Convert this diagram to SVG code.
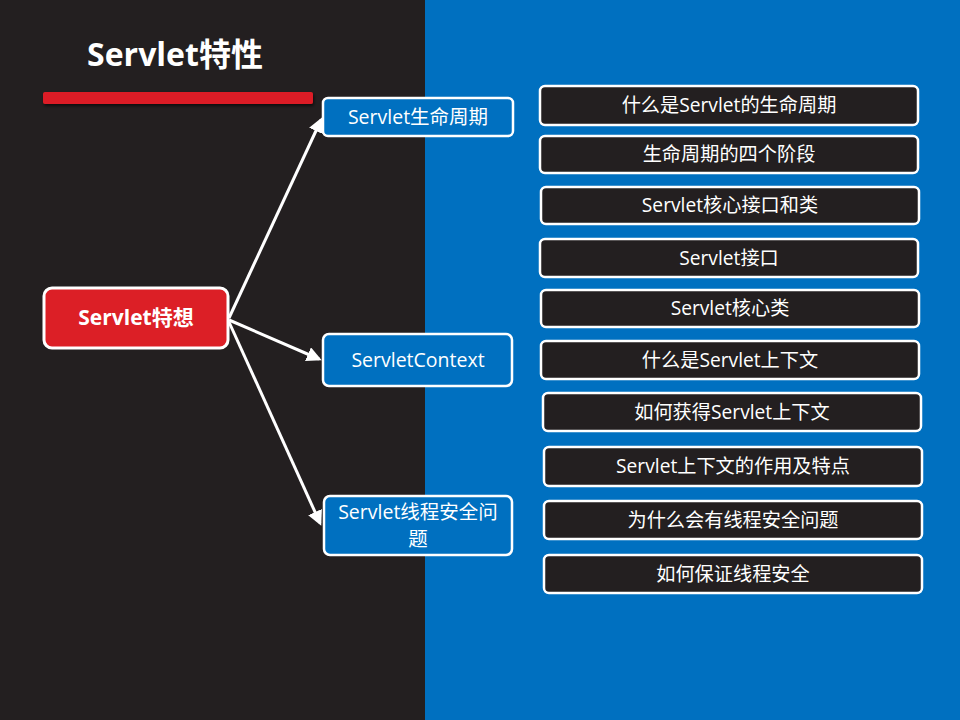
<svg xmlns="http://www.w3.org/2000/svg" width="960" height="720" viewBox="0 0 960 720">
<defs>
<style>
text{font-family:"Open Sans","Noto Sans CJK SC",sans-serif;fill:#fff;text-anchor:middle;}
.mid{fill:#0070c0;stroke:#fff;stroke-width:2.5;}
.leaf{fill:#231f20;stroke:#fff;stroke-width:2.5;}
.lt{font-size:19.2px;}
.mt{font-size:19.5px;}
.conn{stroke:#fff;stroke-width:3;fill:none;marker-end:url(#ah);}
</style>
<marker id="ah" markerWidth="5" markerHeight="5" refX="4" refY="2.5" orient="auto" markerUnits="strokeWidth">
<path d="M0,0 L5,2.5 L0,5 Z" fill="#fff"/>
</marker>
<filter id="sh" x="-10%" y="-50%" width="120%" height="250%">
<feDropShadow dx="1" dy="2" stdDeviation="1.5" flood-color="#000" flood-opacity="0.6"/>
</filter>
</defs>
<rect x="0" y="0" width="425" height="720" fill="#231f20"/>
<rect x="425" y="0" width="535" height="720" fill="#0070c0"/>
<text x="175" y="66" style="font-size:32px;font-weight:bold;">Servlet特性</text>
<rect x="43" y="92" width="270" height="12" rx="2" fill="#dc1f26" filter="url(#sh)"/>
<g id="connectors">
<line class="conn" x1="229" y1="318" x2="321" y2="120"/>
<line class="conn" x1="229" y1="320" x2="319" y2="359"/>
<line class="conn" x1="229" y1="322" x2="320" y2="523"/>
</g>
<g id="root">
<rect x="44" y="288" width="184" height="60" rx="8" fill="#dc1f26" stroke="#fff" stroke-width="3"/>
<text x="136" y="325" style="font-size:21px;font-weight:bold;">Servlet特想</text>
</g>
<g id="n1">
<rect class="mid" x="323" y="98" width="190" height="38" rx="5"/>
<text class="mt" x="418" y="124">Servlet生命周期</text>
</g>
<g id="n2">
<rect class="mid" x="323" y="334" width="189" height="52" rx="6"/>
<text class="mt" x="418" y="367">ServletContext</text>
</g>
<g id="n3">
<rect class="mid" x="324" y="496" width="188" height="59" rx="6"/>
<text class="mt" x="418" y="519">Servlet线程安全问</text>
<text class="mt" x="418" y="546">题</text>
</g>
<g id="l1"><rect class="leaf" x="540" y="86" width="378" height="39" rx="5"/><text class="lt" x="729" y="112">什么是Servlet的生命周期</text></g>
<g id="l2"><rect class="leaf" x="540" y="136" width="378" height="37" rx="5"/><text class="lt" x="729" y="161">生命周期的四个阶段</text></g>
<g id="l3"><rect class="leaf" x="541" y="187" width="378" height="37" rx="5"/><text class="lt" x="730" y="212">Servlet核心接口和类</text></g>
<g id="l4"><rect class="leaf" x="540" y="239" width="378" height="38" rx="5"/><text class="lt" x="729" y="265">Servlet接口</text></g>
<g id="l5"><rect class="leaf" x="541" y="290" width="378" height="37" rx="5"/><text class="lt" x="730" y="315">Servlet核心类</text></g>
<g id="l6"><rect class="leaf" x="541" y="341" width="378" height="38" rx="5"/><text class="lt" x="730" y="367">什么是Servlet上下文</text></g>
<g id="l7"><rect class="leaf" x="543" y="393" width="378" height="38" rx="5"/><text class="lt" x="732" y="419">如何获得Servlet上下文</text></g>
<g id="l8"><rect class="leaf" x="544" y="447" width="378" height="39" rx="5"/><text class="lt" x="733" y="473">Servlet上下文的作用及特点</text></g>
<g id="l9"><rect class="leaf" x="544" y="501" width="378" height="38" rx="5"/><text class="lt" x="733" y="527">为什么会有线程安全问题</text></g>
<g id="l10"><rect class="leaf" x="544" y="555" width="378" height="38" rx="5"/><text class="lt" x="733" y="581">如何保证线程安全</text></g>
</svg>
